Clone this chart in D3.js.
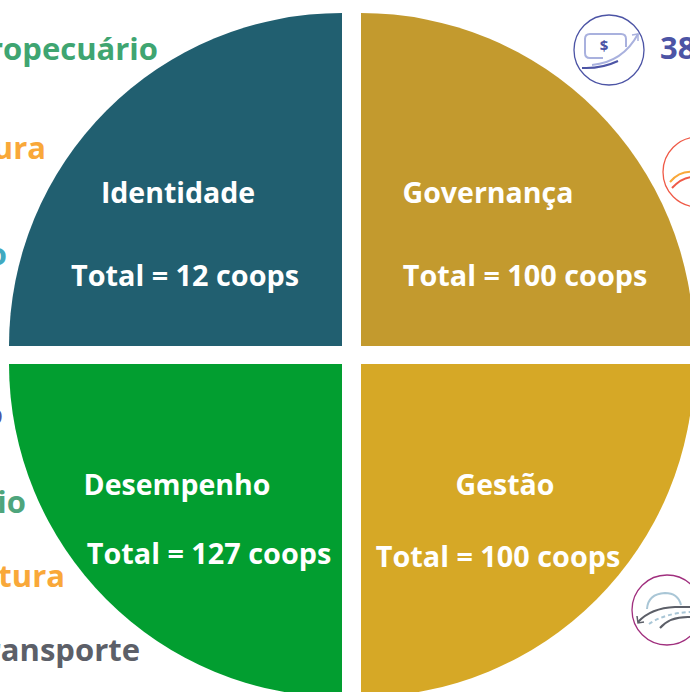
<!DOCTYPE html>
<html>
<head>
<meta charset="utf-8">
<script src="https://cdnjs.cloudflare.com/ajax/libs/d3/7.8.5/d3.min.js"></script>
<style>
  html, body { margin: 0; padding: 0; background: #fff; overflow: hidden; }
  svg { display: block; font-family: "Open Sans", Lato, sans-serif; }
  .name, .total { fill: #fff; font-weight: 700; }
  .side { font-weight: 700; }
</style>
</head>
<body>
<div id="chart"></div>
<script>
// quadrants, clockwise from top right
var dimensions = ["Governança", "Gestão", "Desempenho", "Identidade"];
var totals = [100, 100, 127, 12];
var colors = ["#c39a2e", "#d6a826", "#029e30", "#215f70"];

// legend on the left, it runs off the picture edge
var sideLabels = ["Agropecuário", "Infraestrutura", "o", "o", "Agropecuário", "Infraestrutura", "Transporte"];
var sideColors = ["#3fa571", "#f9a839", "#41a9bf", "#4c54a5", "#4ea57c", "#f9a839", "#5c5f68"];

var width = 690,
    height = 692;

var svg = d3.select("#chart").append("svg")
    .attr("width", width)
    .attr("height", height);

// every slice gets a quarter, the totals are only written on it
var pie = d3.pie().sort(null).value(function() { return 1; });
var arc = d3.arc().innerRadius(0).outerRadius(333);

var centers = [[361, 346], [361, 364], [342, 364], [342, 346]];

svg.selectAll(".slice")
    .data(pie(totals))
  .enter().append("path")
    .attr("class", "slice")
    .attr("d", arc)
    .attr("transform", function(d, i) { return "translate(" + centers[i] + ")"; })
    .attr("fill", function(d, i) { return colors[i]; });

// slice texts
var namePos = [[488, 203], [505, 495], [177, 495], [178, 203]];
var totalPos = [[525, 286], [498, 567], [209, 564], [185, 286]];

svg.selectAll(".name")
    .data(dimensions)
  .enter().append("text")
    .attr("class", "name")
    .attr("x", function(d, i) { return namePos[i][0]; })
    .attr("y", function(d, i) { return namePos[i][1]; })
    .attr("text-anchor", "middle")
    .style("font-size", "28.5px")
    .text(function(d) { return d; });

svg.selectAll(".total")
    .data(totals)
  .enter().append("text")
    .attr("class", "total")
    .attr("x", function(d, i) { return totalPos[i][0]; })
    .attr("y", function(d, i) { return totalPos[i][1]; })
    .attr("text-anchor", "middle")
    .style("font-size", "28.8px")
    .text(function(d) { return "Total = " + d + " coops"; });

// right-aligned so the clipped part runs off the edge
var sideEnd = [158, 46, 7, 3, 26, 65, 140];
var sideY = [60, 159, 265, 425, 513, 587, 661];

svg.selectAll(".side")
    .data(sideLabels)
  .enter().append("text")
    .attr("class", "side")
    .attr("x", function(d, i) { return sideEnd[i]; })
    .attr("y", function(d, i) { return sideY[i]; })
    .attr("text-anchor", "end")
    .attr("fill", function(d, i) { return sideColors[i]; })
    .style("font-size", "31px")
    .text(function(d) { return d; });

svg.append("text")
    .attr("x", 660)
    .attr("y", 59)
    .attr("fill", "#4c54a5")
    .style("font-size", "31px")
    .style("font-weight", 700)
    .text("38");

// icons, money
var money = svg.append("g").attr("transform", "translate(609,50)").attr("fill", "none");
money.append("circle").attr("r", 35).attr("stroke", "#4c54a5").attr("stroke-width", 1.3);
money.append("path").attr("d", "M-6,8 H-19 Q-24,8 -24,3 V-11 Q-24,-16 -19,-16 H12 Q17,-16 17,-11 V-3")
    .attr("stroke", "#a9b1de").attr("stroke-width", 2);
money.append("path").attr("d", "M-17,15 Q14,12 29,-16").attr("stroke", "#a9b1de").attr("stroke-width", 2);
money.append("path").attr("d", "M23,-15 L29,-16 L29,-9").attr("stroke", "#a9b1de").attr("stroke-width", 1.5);
money.append("path").attr("d", "M-27,18 Q-8,19 9,11").attr("stroke", "#4c54a5").attr("stroke-width", 2);
money.append("text").attr("x", -5).attr("y", 1).attr("text-anchor", "middle")
    .attr("fill", "#4c54a5").style("font-size", "15px").style("font-weight", 700).text("$");

// icon, cut off on the right
var orange = svg.append("g").attr("transform", "translate(698,172)").attr("fill", "none");
orange.append("circle").attr("r", 35).attr("stroke", "#ef5a47").attr("stroke-width", 1.3);
orange.append("path").attr("d", "M-28,10 Q-18,-2 -4,0 Q2,1 8,6").attr("stroke", "#f9a839").attr("stroke-width", 2);
orange.append("path").attr("d", "M-26,16 Q-15,4 -3,5 Q3,6 8,10").attr("stroke", "#ef5a47").attr("stroke-width", 2);

// icon, road
var road = svg.append("g").attr("transform", "translate(667,610)").attr("fill", "none");
road.append("circle").attr("r", 35).attr("stroke", "#a02f7e").attr("stroke-width", 1.3);
road.append("path").attr("d", "M-20,-1 Q-19,-16 -2,-17 Q11,-17 14,-5").attr("stroke", "#a9c6d6").attr("stroke-width", 2);
road.append("path").attr("d", "M-29,12 Q-16,-2 8,-3 L24,-3").attr("stroke", "#5c5f68").attr("stroke-width", 2);
road.append("path").attr("d", "M-30,6 L-29,13 L-23,12").attr("stroke", "#5c5f68").attr("stroke-width", 1.5);
road.append("path").attr("d", "M-18,14 Q-2,3 24,2").attr("stroke", "#a9c6d6").attr("stroke-width", 2).attr("stroke-dasharray", "4 3");
road.append("path").attr("d", "M-7,18 Q3,6 24,7").attr("stroke", "#5c5f68").attr("stroke-width", 2);
</script>
</body>
</html>
